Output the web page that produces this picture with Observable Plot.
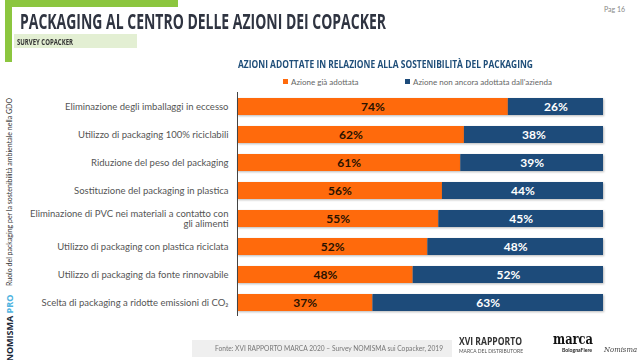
<!DOCTYPE html>
<html>
<head>
<meta charset="utf-8">
<script src="https://cdn.jsdelivr.net/npm/d3@7"></script>
<script src="https://cdn.jsdelivr.net/npm/@observablehq/plot@0.6"></script>
<style>
  html, body { margin: 0; padding: 0; background: #fff; }
  #wrap { position: relative; width: 640px; height: 360px; overflow: hidden; font-family: Lato, "Open Sans", sans-serif; }
  #wrap > svg { position: absolute; left: 0; top: 0; }
  .abs { position: absolute; white-space: nowrap; }
  .bars rect { filter: drop-shadow(1px 1.5px 0.8px rgba(0,0,0,0.28)); }
</style>
</head>
<body>
<div id="wrap"></div>
<script>
const categories = [
  "Eliminazione degli imballaggi in eccesso",
  "Utilizzo di packaging 100% riciclabili",
  "Riduzione del peso del packaging",
  "Sostituzione del packaging in plastica",
  "Eliminazione di PVC nei materiali a contatto con\ngli alimenti",
  "Utilizzo di packaging con plastica riciclata",
  "Utilizzo di packaging da fonte rinnovabile",
  "Scelta di packaging a ridotte emissioni di CO₂"
];
const adopted    = [74, 62, 61, 56, 55, 52, 48, 37];
const notAdopted = [26, 38, 39, 44, 45, 48, 52, 63];
const seriesNames = ["Azione già adottata", "Azione non ancora adottata dall'azienda"];
const seriesColors = ["#ff6a0c", "#1d4b7a"];

const long = [];
categories.forEach((c, i) => {
  long.push({cat: c, status: seriesNames[0], value: adopted[i], base: 0});
  long.push({cat: c, status: seriesNames[1], value: notAdopted[i], base: adopted[i]});
});
const first = long.filter(d => d.status === seriesNames[0]);
const second = long.filter(d => d.status === seriesNames[1]);

const plot = Plot.plot({
  width: 640,
  height: 360,
  marginLeft: 237,
  marginRight: 37,
  marginTop: 92,
  marginBottom: 44,
  style: {fontFamily: "Lato, 'Open Sans', sans-serif", background: "transparent"},
  x: {domain: [0, 100], axis: null},
  y: {domain: categories, paddingInner: 0.4, paddingOuter: 0.2, label: null},
  color: {domain: seriesNames, range: seriesColors},
  marks: [
    Plot.barX(long, Plot.stackX({x: "value", y: "cat", fill: "status", order: seriesNames, className: "bars"})),
    Plot.ruleX([0], {stroke: "#444", strokeWidth: 1}),
    Plot.text(first, {x: d => d.value / 2, y: "cat", text: d => d.value + "%", fill: "#2a1200", fontWeight: "bold", fontSize: 12}),
    Plot.text(second, {x: d => d.base + d.value / 2, y: "cat", text: d => d.value + "%", fill: "#ffffff", fontWeight: "bold", fontSize: 12}),
    Plot.axisY({tickSize: 0, tickPadding: 9, fontSize: 9.5, fill: "#555", lineHeight: 1.05, label: null})
  ]
});
const wrap = document.getElementById("wrap");
wrap.appendChild(plot);

function add(html, style, fitW) {
  const d = document.createElement("div");
  d.className = "abs";
  d.innerHTML = html;
  Object.assign(d.style, style);
  wrap.appendChild(d);
  if (fitW) {
    const w = d.getBoundingClientRect().width;
    d.style.transformOrigin = "left top";
    d.style.transform = `scaleX(${fitW / w})`;
  }
  return d;
}
// decorations
add("", {left: "5px", top: "0px", width: "173px", height: "7px", background: "#8cc63f"});
add("", {left: "5px", top: "0px", width: "7px", height: "62px", background: "#8cc63f"});
add("PACKAGING AL CENTRO DELLE AZIONI DEI COPACKER", {left: "20px", top: "10px", fontSize: "21px", lineHeight: "22px", fontWeight: "bold", color: "#2f3441", fontFamily: "'Open Sans', sans-serif"}, 366);
add("", {left: "14px", top: "34px", width: "123px", height: "14px", background: "#e3efd3"});
add("SURVEY COPACKER", {left: "17px", top: "36px", fontSize: "8.5px", fontWeight: "bold", color: "#333", lineHeight: "12px", fontFamily: "'Open Sans', sans-serif"}, 56);
add("Pag 16", {left: "604px", top: "5px", fontSize: "7px", color: "#888"});
add("AZIONI ADOTTATE IN RELAZIONE ALLA SOSTENIBILITÀ DEL PACKAGING", {left: "238px", top: "56px", fontSize: "11px", fontWeight: "bold", color: "#1f4e79", fontFamily: "'Open Sans', sans-serif"}, 295);
// legend
add(`<span style="display:inline-block;width:5px;height:5px;background:${seriesColors[0]};margin-right:3px;vertical-align:1px"></span>${seriesNames[0]}`, {left: "283px", top: "77px", fontSize: "8px", color: "#666"});
add(`<span style="display:inline-block;width:5px;height:5px;background:${seriesColors[1]};margin-right:3px;vertical-align:1px"></span>${seriesNames[1]}`, {left: "405px", top: "77px", fontSize: "8px", color: "#666"});
// left vertical texts
add("Ruolo del packaging per la sostenibilità ambientale nella GDO", {left: "9px", top: "192px", fontSize: "7px", color: "#333", transform: "translate(-50%,-50%) rotate(-90deg)"});
add('<span style="color:#1c2a3a">NOMISMA</span> <span style="color:#4fb3e0">PRO</span>', {left: "9px", top: "328px", fontSize: "9px", fontWeight: "bold", fontFamily: "'Open Sans', sans-serif", transform: "translate(-50%,-50%) rotate(-90deg)"});
// footer
add("", {left: "192px", top: "340px", width: "260px", height: "17px", background: "#efefef"});
add("Fonte: XVI RAPPORTO MARCA 2020 – Survey NOMISMA sui Copacker, 2019", {left: "215px", top: "340px", fontSize: "8px", color: "#777", lineHeight: "17px"}, 228);
add("XVI RAPPORTO", {left: "459px", top: "333px", fontSize: "11px", fontWeight: "bold", color: "#333", fontFamily: "'Open Sans', sans-serif"}, 63);
add("MARCA DEL DISTRIBUTORE", {left: "459px", top: "348px", fontSize: "5.5px", color: "#555"}, 64);
add("marca", {left: "553px", top: "330px", fontSize: "15px", fontWeight: "bold", color: "#111", fontFamily: "'DejaVu Serif', serif"}, 40);
add("BolognaFiere", {left: "562px", top: "347px", fontSize: "5px", fontWeight: "bold", color: "#222"}, 30);
add("Nomisma", {left: "604px", top: "345px", fontSize: "8px", fontStyle: "italic", color: "#444", fontFamily: "'DejaVu Serif', serif"}, 33);
</script>
</body>
</html>
